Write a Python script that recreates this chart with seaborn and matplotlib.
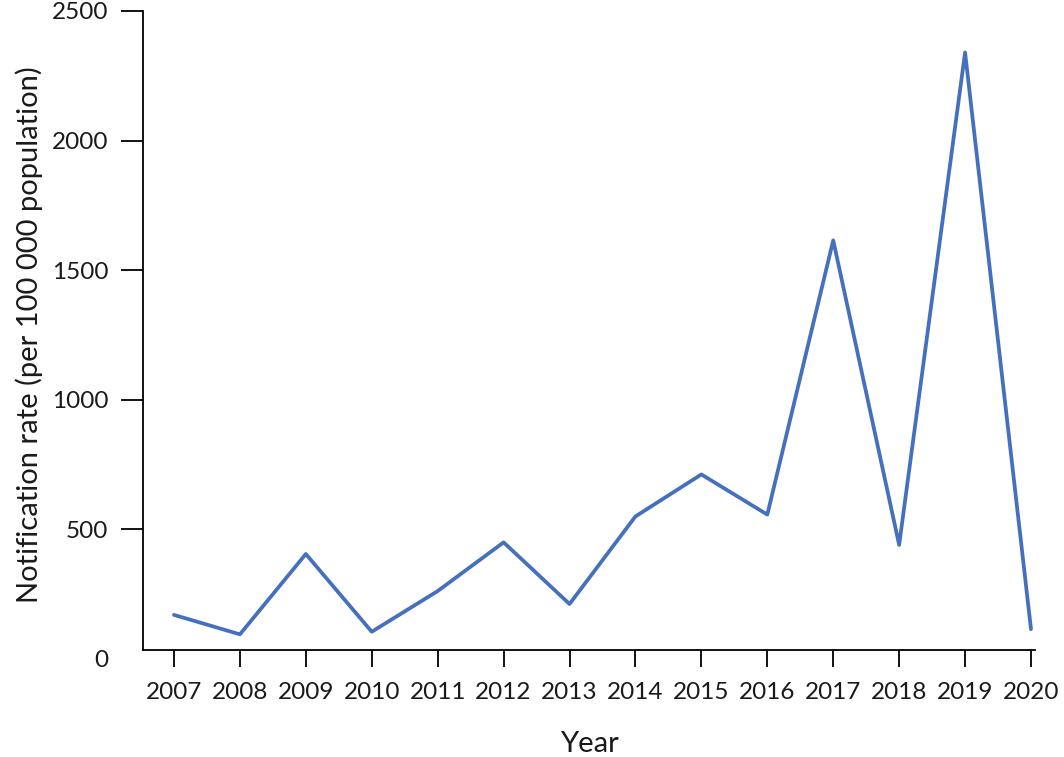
import matplotlib.pyplot as plt
import seaborn as sns
import pandas as pd

# Notification rate per year
years = [2007, 2008, 2009, 2010, 2011, 2012, 2013, 2014, 2015, 2016, 2017, 2018, 2019, 2020]
rates = [170, 95, 405, 105, 262, 450, 212, 550, 712, 557, 1615, 440, 2340, 115]
y_ticks = [0, 500, 1000, 1500, 2000, 2500]

df = pd.DataFrame({'Year': years, 'Rate': rates})

sns.set_style('white')
plt.rcParams['font.family'] = ['Lato', 'DejaVu Sans']

fig = plt.figure(figsize=(10.64, 7.57), dpi=100)
ax = fig.add_axes([0.1344, 0.1295, 0.8383, 0.856])

sns.lineplot(x='Year', y='Rate', data=df, color='#4570BD', linewidth=2.7, ax=ax)

ax.set_xlim(2006.53, 2020.06)
ax.set_ylim(0, 2500)
ax.set_xticks(years)
ax.set_yticks(y_ticks)
ax.tick_params(axis='both', labelsize=17.5, color='black', width=1.3,
               bottom=True, left=True, labelcolor='#1a1a1a')
ax.tick_params(axis='y', length=16, pad=9)
ax.tick_params(axis='x', length=12, pad=11)

# the x axis in the original sits slightly above zero, no tick mark at 0
ax.spines['bottom'].set_position(('data', 35))
ax.spines['left'].set_bounds(35, 2500)
ax.yaxis.get_major_ticks()[0].tick1line.set_visible(False)
for side in ['top', 'right']:
    ax.spines[side].set_visible(False)
for side in ['left', 'bottom']:
    ax.spines[side].set_color('black')
    ax.spines[side].set_linewidth(1.3)

ax.set_xlabel('Year', fontsize=21, labelpad=20, color='#1a1a1a')
ax.set_ylabel('Notification rate (per 100 000 population)', fontsize=21, labelpad=6, color='#1a1a1a')

plt.savefig('out.png', dpi=100)
